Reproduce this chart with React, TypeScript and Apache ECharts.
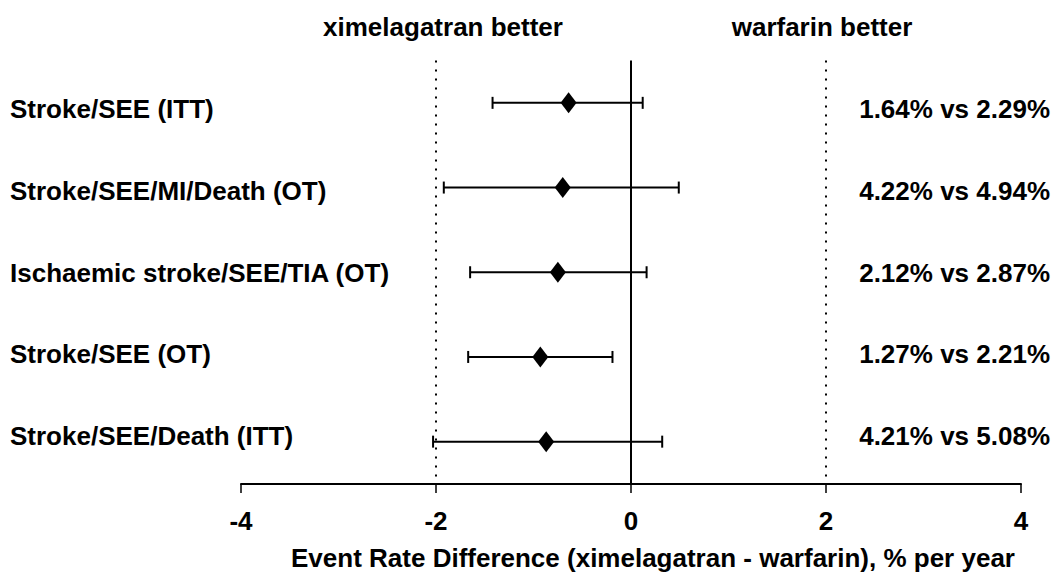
import React, { useEffect, useRef } from "react";
import * as echarts from "echarts";

const categories = [
  "Stroke/SEE (ITT)",
  "Stroke/SEE/MI/Death (OT)",
  "Ischaemic stroke/SEE/TIA (OT)",
  "Stroke/SEE (OT)",
  "Stroke/SEE/Death (ITT)",
];
const estimates = [-0.64, -0.7, -0.75, -0.93, -0.87];
const lower = [-1.42, -1.92, -1.65, -1.67, -2.03];
const upper = [0.12, 0.49, 0.16, -0.19, 0.32];
const rateTexts = [
  "1.64% vs 2.29%",
  "4.22% vs 4.94%",
  "2.12% vs 2.87%",
  "1.27% vs 2.21%",
  "4.21% vs 5.08%",
];
const xTicks = [-4, -2, 0, 2, 4];
const favourLabels = ["ximelagatran better", "warfarin better"];
const axisTitle = "Event Rate Difference (ximelagatran - warfarin), % per year";

const FONT = "'Liberation Sans', Arial, sans-serif";
const NARROW = "'Liberation Sans Narrow', 'Arial Narrow', 'Liberation Sans', sans-serif";

export default function App() {
  const ref = useRef<HTMLDivElement>(null);
  useEffect(() => {
    if (!ref.current) return;
    const chart = echarts.init(ref.current, undefined, { renderer: "svg" });
    const barData = categories.map((_, i) => [i, lower[i], upper[i]]);
    const pointData = categories.map((_, i) => [estimates[i], i]);
    chart.setOption({
      animation: false,
      backgroundColor: "#fff",
      graphic: [
        {
          type: "text",
          x: 443,
          y: 27,
          style: {
            text: favourLabels[0],
            align: "center",
            verticalAlign: "middle",
            fontFamily: FONT,
            fontWeight: "bold",
            fontSize: 26,
            fill: "#000",
          },
        },
        {
          type: "text",
          x: 822,
          y: 27,
          style: {
            text: favourLabels[1],
            align: "center",
            verticalAlign: "middle",
            fontFamily: FONT,
            fontWeight: "bold",
            fontSize: 26,
            fill: "#000",
          },
        },
      ],
      grid: [
        { left: 241, right: 32, top: 60.5, bottom: 91.7 },
        { left: 300, right: 353, top: 68, height: 409 },
      ],
      xAxis: [
        {
          type: "value",
          gridIndex: 0,
          min: -4,
          max: 4,
          interval: 2,
          splitLine: { show: false },
          axisLine: { show: true, lineStyle: { color: "#000", width: 2 } },
          axisTick: { show: true, length: 9, lineStyle: { color: "#000", width: 1.5 } },
          axisLabel: {
            margin: 24,
            color: "#000",
            fontFamily: FONT,
            fontWeight: "bold",
            fontSize: 26,
            formatter: (v: number) => (xTicks.includes(v) ? String(v) : ""),
          },
          name: axisTitle,
          nameLocation: "middle",
          nameGap: 61,
          nameTextStyle: {
            color: "#000",
            fontFamily: FONT,
            fontWeight: "bold",
            fontSize: 26,
            padding: [0, 0, 0, 44],
          },
        },
        { type: "value", gridIndex: 1, show: false },
      ],
      yAxis: [
        {
          type: "category",
          gridIndex: 0,
          data: categories,
          inverse: true,
          axisLine: { show: false },
          axisTick: { show: false },
          axisLabel: { show: false },
          splitLine: { show: false },
        },
        {
          type: "category",
          gridIndex: 1,
          position: "left",
          data: categories,
          inverse: true,
          axisLine: { show: false },
          axisTick: { show: false },
          splitLine: { show: false },
          axisLabel: {
            align: "left",
            margin: 290,
            color: "#000",
            fontFamily: FONT,
            fontWeight: "bold",
            fontSize: 26,
          },
        },
        {
          type: "category",
          gridIndex: 1,
          position: "right",
          data: rateTexts,
          inverse: true,
          axisLine: { show: false },
          axisTick: { show: false },
          splitLine: { show: false },
          axisLabel: {
            align: "right",
            margin: 350.7,
            color: "#000",
            fontFamily: NARROW,
            fontWeight: "bold",
            fontSize: 26,
          },
        },
      ],
      series: [
        {
          type: "custom",
          xAxisIndex: 0,
          yAxisIndex: 0,
          data: barData,
          encode: { x: [1, 2], y: 0 },
          renderItem: (params: any, api: any) => {
            const idx = api.value(0);
            const lo = api.coord([api.value(1), idx]);
            const hi = api.coord([api.value(2), idx]);
            const h = 6;
            const st = { stroke: "#000", lineWidth: 2 };
            return {
              type: "group",
              children: [
                { type: "line", shape: { x1: lo[0], y1: lo[1], x2: hi[0], y2: hi[1] }, style: st },
                { type: "line", shape: { x1: lo[0], y1: lo[1] - h, x2: lo[0], y2: lo[1] + h }, style: st },
                { type: "line", shape: { x1: hi[0], y1: hi[1] - h, x2: hi[0], y2: hi[1] + h }, style: st },
              ],
            };
          },
          z: 3,
        },
        {
          type: "scatter",
          xAxisIndex: 0,
          yAxisIndex: 0,
          data: pointData,
          symbol: "diamond",
          symbolSize: [16, 21],
          itemStyle: { color: "#000", opacity: 1 },
          z: 4,
          markLine: {
            silent: true,
            symbol: "none",
            label: { show: false },
            data: [
              { xAxis: 0, lineStyle: { color: "#000", width: 2, type: "solid", opacity: 1 } },
              { xAxis: -2, lineStyle: { color: "#000", width: 2, type: [2, 7], opacity: 1 } },
              { xAxis: 2, lineStyle: { color: "#000", width: 2, type: [2, 7], opacity: 1 } },
            ],
          },
        },
      ],
    });
    return () => chart.dispose();
  }, []);
  return (
    <div
      ref={ref}
      style={{ position: "absolute", left: 0, top: 0, width: 1053, height: 576, background: "#fff" }}
    />
  );
}
